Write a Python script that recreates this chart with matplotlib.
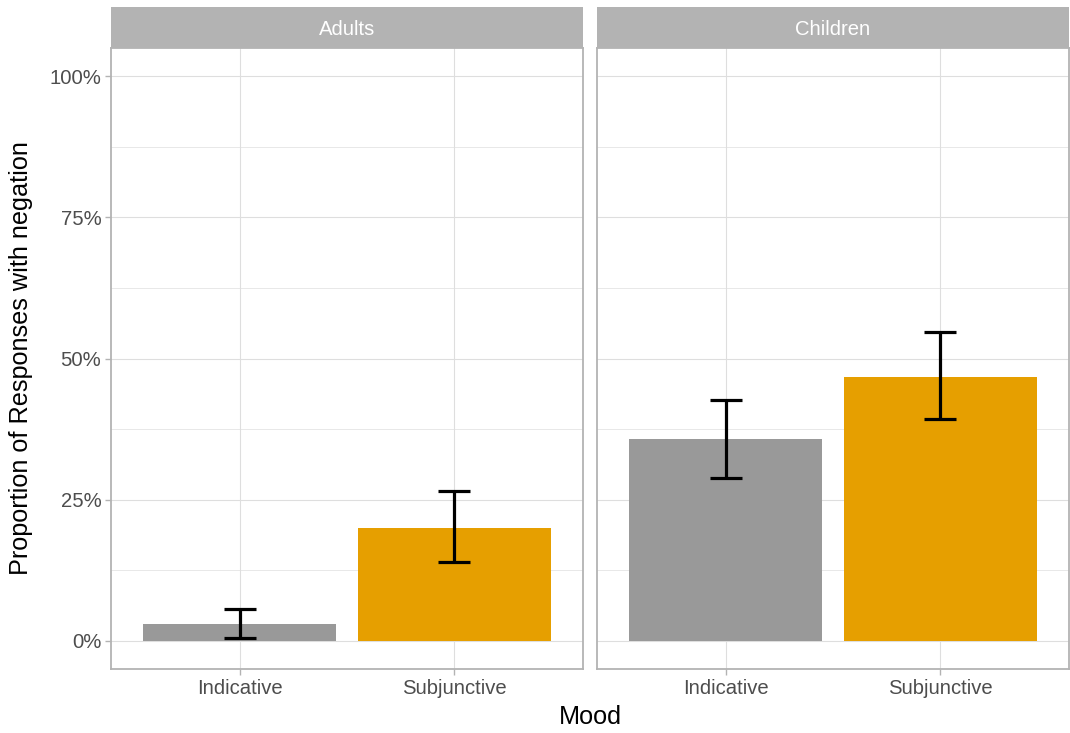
import matplotlib
matplotlib.use("Agg")
import matplotlib.pyplot as plt
from matplotlib.ticker import FixedLocator, FuncFormatter
import numpy as np

plt.rcParams['font.family'] = ['Liberation Sans', 'DejaVu Sans']

panels = ["Adults", "Children"]
moods = ["Indicative", "Subjunctive"]
props = {"Adults": [0.0305, 0.2005], "Children": [0.358, 0.467]}
lower = {"Adults": [0.005, 0.140], "Children": [0.288, 0.392]}
upper = {"Adults": [0.056, 0.266], "Children": [0.4265, 0.547]}
bar_colors = ["#999999", "#E69F00"]
yticks = [0, 0.25, 0.5, 0.75, 1.0]
yminor = [0.125, 0.375, 0.625, 0.875]

W, H = 1070, 733
fig = plt.figure(figsize=(W / 100, H / 100), dpi=100)

grey70 = "#B3B3B3"
grid_c = "#DEDEDE"
lefts = [111, 597]
pw = 472
top, bottom, strip_top = 48, 669, 7
tick_fs = 14.6
title_fs = 18.2

for i, p in enumerate(panels):
    ax = fig.add_axes([lefts[i] / W, (H - bottom) / H, pw / W, (bottom - top) / H])
    x = np.arange(1, len(moods) + 1)
    ax.bar(x, props[p], width=0.9, color=bar_colors, zorder=2)
    y = np.array(props[p])
    lo = y - np.array(lower[p])
    hi = np.array(upper[p]) - y
    ax.errorbar(x, y, yerr=[lo, hi], fmt='none', ecolor='black',
                elinewidth=2.3, capsize=11.5, capthick=2.3, zorder=3)
    ax.set_xlim(0.4, 2.6)
    ax.set_ylim(-0.05, 1.05)
    ax.yaxis.set_major_locator(FixedLocator(yticks))
    ax.yaxis.set_minor_locator(FixedLocator(yminor))
    ax.set_xticks(x)
    ax.set_xticklabels(moods)
    ax.yaxis.set_major_formatter(FuncFormatter(lambda v, pos: f"{v*100:.0f}%"))
    ax.grid(True, which='major', color=grid_c, linewidth=0.8, zorder=0)
    ax.grid(True, which='minor', axis='y', color=grid_c, linewidth=0.5, zorder=0)
    ax.set_axisbelow(True)
    for s in ax.spines.values():
        s.set_color(grey70)
        s.set_linewidth(1.3)
    ax.tick_params(axis='both', which='major', color=grey70, length=4, width=1,
                   labelcolor="#4D4D4D", labelsize=tick_fs, pad=3)
    ax.tick_params(axis='y', which='minor', length=0)
    if i > 0:
        ax.tick_params(axis='y', which='both', left=False, labelleft=False)
    # strip
    sax = fig.add_axes([lefts[i] / W, (H - top) / H, pw / W, (top - strip_top) / H])
    sax.set_facecolor(grey70)
    sax.set_xticks([]); sax.set_yticks([])
    for s in sax.spines.values():
        s.set_visible(False)
    sax.text(0.5, 0.45, p, color="white", ha='center', va='center', fontsize=tick_fs,
             transform=sax.transAxes)

fig.text((111 + 1069) / 2 / W, 1 - 717 / H, "Mood", ha='center', va='center', fontsize=title_fs)
fig.text(21 / W, 1 - (48 + 669) / 2 / H, "Proportion of Responses with negation",
         ha='center', va='center', rotation=90, fontsize=title_fs)

fig.savefig("out.png", dpi=100)
